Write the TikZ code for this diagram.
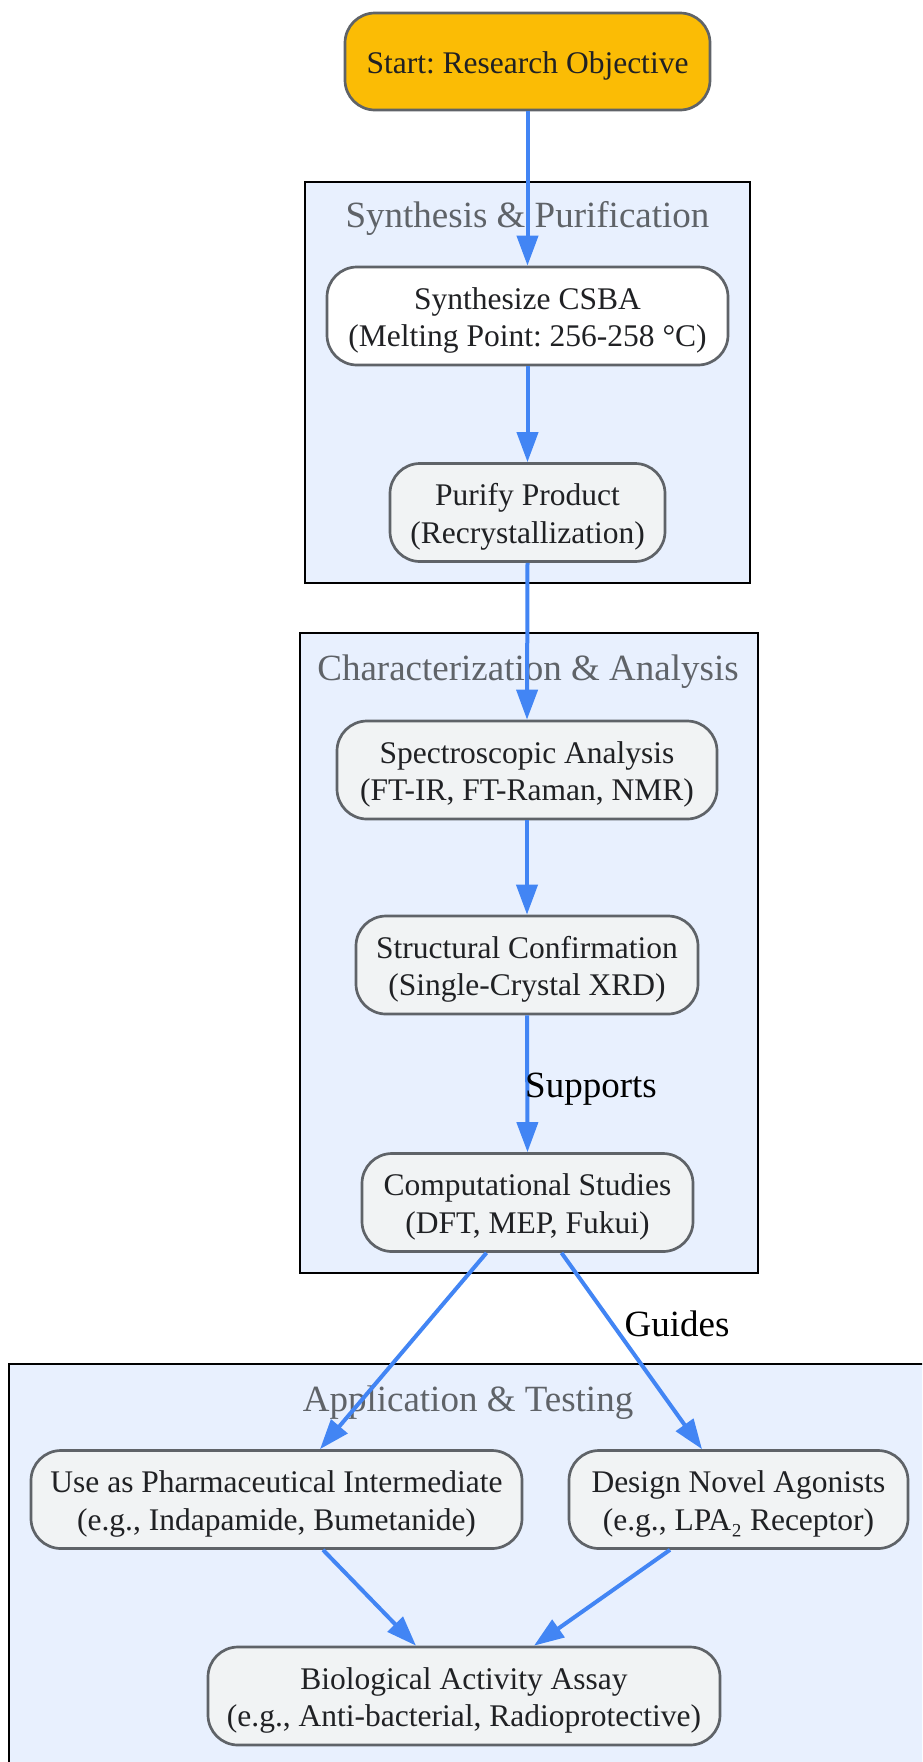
\documentclass[tikz,border=0pt]{standalone}
\usepackage{fontspec}
\setmainfont{Liberation Serif}
\usetikzlibrary{arrows.meta,calc}
\definecolor{edgeblue}{HTML}{4285F4}
\definecolor{bordergray}{HTML}{5F6368}
\definecolor{nodefill}{HTML}{F1F3F4}
\definecolor{clusterfill}{HTML}{E8F0FE}
\definecolor{startfill}{HTML}{FBBC05}
\definecolor{textdark}{HTML}{202124}
\newcommand{\ntext}[1]{\raisebox{-4.5pt}[\height][\depth]{\begin{tabular}{@{}c@{}}#1\end{tabular}}}
\frenchspacing
\begin{document}
\begin{tikzpicture}[x=1pt,y=-1pt,
  box/.style={draw=bordergray, line width=2.7pt, rounded corners=30pt, fill=nodefill, text=textdark, font=\fontsize{31.5}{37.5}\selectfont, inner sep=0pt, minimum height=98pt},
  cluster/.style={draw=black, line width=2pt, fill=clusterfill},
  ctitle/.style={text=bordergray, font=\fontsize{37}{44}\selectfont, inner sep=0pt},
  flow/.style={draw=edgeblue, line width=4pt, -{Triangle[length=30pt,width=21pt]}},
  elabel/.style={text=black, font=\fontsize{37}{44}\selectfont, inner sep=0pt}]
\useasboundingbox (0,0) rectangle (922,1762);
\clip (0,0) rectangle (922,1762);
% clusters
\draw[cluster] (305,182) rectangle (750,583);
\draw[cluster] (300,633) rectangle (758,1273);
\draw[cluster] (9,1364) rectangle (940,1800);
\node[ctitle] (t1) at (527.5,218) {Synthesis \& Purification};
\node[ctitle] (t2) at (528,672) {Characterization \& Analysis};
\node[ctitle] (t3) at (468,1403) {Application \& Testing};
% nodes
\node[box, fill=startfill, minimum width=365pt, minimum height=97pt] (start) at (527.5,61.5) {\ntext{Start: Research Objective}};
\node[box, fill=white, minimum width=401pt] (synth) at (527.5,316) {\ntext{Synthesize CSBA\\(Melting Point: 256-258 °C)}};
\node[box, minimum width=275pt] (purify) at (527.5,512.5) {\ntext{Purify Product\\(Recrystallization)}};
\node[box, minimum width=380pt] (spectro) at (527,770) {\ntext{Spectroscopic Analysis\\(FT-IR, FT-Raman, NMR)}};
\node[box, minimum width=342pt] (struct) at (527,965) {\ntext{Structural Confirmation\\(Single-Crystal XRD)}};
\node[box, minimum width=331pt] (comp) at (527.5,1202.5) {\ntext{Computational Studies\\(DFT, MEP, Fukui)}};
\node[box, minimum width=491pt] (pharma) at (276.5,1499.5) {\ntext{Use as Pharmaceutical Intermediate\\(e.g., Indapamide, Bumetanide)}};
\node[box, minimum width=339pt] (design) at (738.5,1499.5) {\ntext{Design Novel Agonists\\(e.g., LPA₂ Receptor)}};
\node[box, minimum width=512pt] (bio) at (464,1696) {\ntext{Biological Activity Assay\\(e.g., Anti-bacterial, Radioprotective)}};
% edges
\draw[flow] (start.south) -- (synth.north);
\draw[flow] (synth.south) -- (purify.north);
\draw[flow] (purify.south) -- (spectro.north);
\draw[flow] (spectro.south) -- (struct.north);
\draw[flow] (struct.south) -- (comp.north);
\node[elabel] (lsup) at (591,1089) {Supports};
\draw[flow] ([xshift=-41pt]comp.south) -- ([xshift=43.5pt]pharma.north);
\draw[flow] ([xshift=34pt]comp.south) -- ([xshift=-36.5pt]design.north);
\node[elabel] (lguide) at (677,1324) {Guides};
\draw[flow] ([xshift=46.5pt]pharma.south) -- ([xshift=-48pt]bio.north);
\draw[flow] ([xshift=-68.5pt]design.south) -- ([xshift=70pt]bio.north);
\end{tikzpicture}
\end{document}
